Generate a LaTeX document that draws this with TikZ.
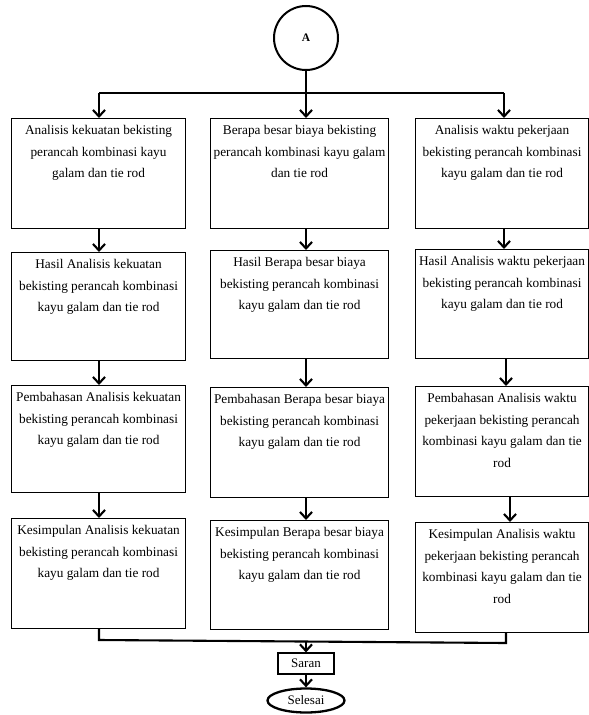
\documentclass[tikz,border=0pt]{standalone}
\usepackage{fontspec}
\setmainfont{Liberation Serif}
\usetikzlibrary{arrows.meta,shapes.geometric}
\newcommand{\bxt}[3]{\parbox[c][#2][t]{#1}{\centering\fontsize{13.3}{21.5}\selectfont\rule{0pt}{16pt}#3}}
\begin{document}
\begin{tikzpicture}[x=1pt,y=-1pt,
  box/.style={draw, line width=1.1pt, inner sep=0pt, anchor=north west},
  conn/.style={line width=2.1pt},
  arr/.style={conn, -{Straight Barb[length=6.5pt,width=12pt]}},
  txt/.style={font=\fontsize{13}{15}\selectfont}]
\fill[white] (0,0) rectangle (589,715);
\useasboundingbox (0,0) rectangle (589,715);

% start connector
\node[draw, circle, line width=2pt, minimum size=64pt, inner sep=0pt] (A) at (306,38) {\fontsize{11.5}{13}\selectfont\bfseries A};

% left column
\node[box] (L1) at (11,118) {\bxt{174pt}{110pt}{Analisis kekuatan bekisting\\perancah kombinasi kayu\\galam dan tie rod}};
\node[box] (L2) at (11,252) {\bxt{174pt}{108pt}{Hasil Analisis kekuatan\\bekisting perancah kombinasi\\kayu galam dan tie rod}};
\node[box] (L3) at (11,385) {\bxt{174pt}{107pt}{Pembahasan Analisis kekuatan\\bekisting perancah kombinasi\\kayu galam dan tie rod}};
\node[box] (L4) at (11,518) {\bxt{174pt}{110pt}{Kesimpulan Analisis kekuatan\\bekisting perancah kombinasi\\kayu galam dan tie rod}};

% middle column
\node[box] (M1) at (210,118) {\bxt{178pt}{110pt}{Berapa besar biaya bekisting\\perancah kombinasi kayu galam\\dan tie rod}};
\node[box] (M2) at (210,250) {\bxt{178pt}{108pt}{Hasil Berapa besar biaya\\bekisting perancah kombinasi\\kayu galam dan tie rod}};
\node[box] (M3) at (210,387) {\bxt{178pt}{110pt}{Pembahasan Berapa besar biaya\\bekisting perancah kombinasi\\kayu galam dan tie rod}};
\node[box] (M4) at (210,520) {\bxt{178pt}{109pt}{Kesimpulan Berapa besar biaya\\bekisting perancah kombinasi\\kayu galam dan tie rod}};

% right column
\node[box] (R1) at (415,118) {\bxt{173pt}{110pt}{Analisis waktu pekerjaan\\bekisting perancah kombinasi\\kayu galam dan tie rod}};
\node[box] (R2) at (415,249) {\bxt{173pt}{109pt}{Hasil Analisis waktu pekerjaan\\bekisting perancah kombinasi\\kayu galam dan tie rod}};
\node[box] (R3) at (415,386) {\bxt{173pt}{110pt}{Pembahasan Analisis waktu\\pekerjaan bekisting perancah\\kombinasi kayu galam dan tie\\rod}};
\node[box] (R4) at (415,522) {\bxt{173pt}{110pt}{Kesimpulan Analisis waktu\\pekerjaan bekisting perancah\\kombinasi kayu galam dan tie\\rod}};

% end
\node[draw, line width=1.1pt, minimum width=56pt, minimum height=21pt, inner sep=0pt, txt] (S) at (306,663.5) {Saran};
\node[draw, ellipse, line width=2.3pt, minimum width=77pt, minimum height=24pt, inner sep=0pt, txt] (E) at (306,700.5) {Selesai};

% top distribution
\coordinate (tl) at (99,93);
\coordinate (tm) at (306,93);
\coordinate (tr) at (504,93);
\draw[conn] (tl) -- (tr);
\draw[arr] (A.south) -- (M1.north -| tm);
\draw[arr] (tl) -- (L1.north -| tl);
\draw[arr] (tr) -- (R1.north -| tr);

% column x positions
\coordinate (cl) at (99,0);
\coordinate (cm) at (306,0);
\coordinate (cr1) at (504,0);
\coordinate (cr2) at (506,0);
\coordinate (cr3) at (510,0);

\draw[arr] (L1.south -| cl) -- (L2.north -| cl);
\draw[arr] (L2.south -| cl) -- (L3.north -| cl);
\draw[arr] (L3.south -| cl) -- (L4.north -| cl);
\draw[arr] (M1.south -| cm) -- (M2.north -| cm);
\draw[arr] (M2.south -| cm) -- (M3.north -| cm);
\draw[arr] (M3.south -| cm) -- (M4.north -| cm);
\draw[arr] (R1.south -| cr1) -- (R2.north -| cr1);
\draw[arr] (R2.south -| cr2) -- (R3.north -| cr2);
\draw[arr] (R3.south -| cr3) -- (R4.north -| cr3);

% bottom merge
\coordinate (bl) at (99,640);
\coordinate (bm) at (306,641.5);
\coordinate (br) at (506,643);
\draw[conn] (L4.south -| bl) -- (bl) -- (br) -- (R4.south -| br);
\draw[arr] (bm) -- (S.north);
\draw[arr] (S.south) -- (E.north);
\end{tikzpicture}
\end{document}
